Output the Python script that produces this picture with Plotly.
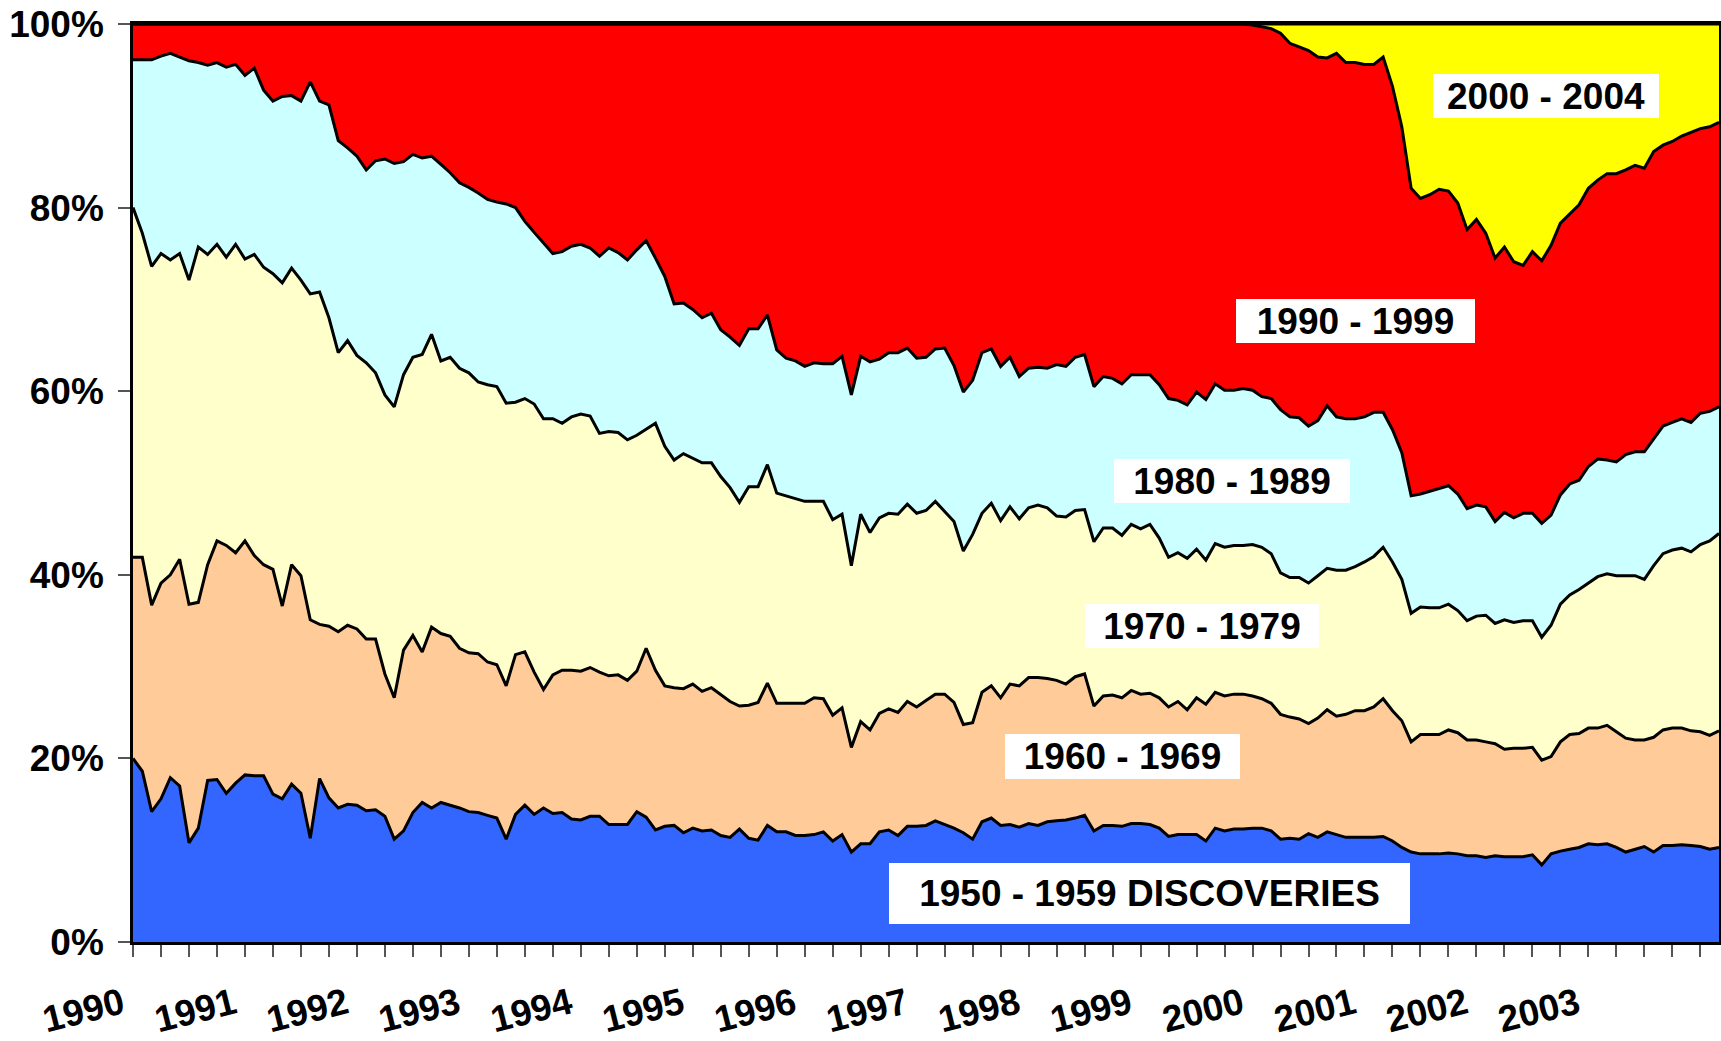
import plotly.graph_objects as go

# ---------------- data (cumulative share of production, %), Jan-1990 .. Mar-2004 monthly
months = [f"{1990 + k // 12}-{k % 12 + 1:02d}" for k in range(171)]
year_labels = [str(y) for y in range(1990, 2004)]
y_tick_labels = ["0%", "20%", "40%", "60%", "80%", "100%"]
series_names = ["1950 - 1959 DISCOVERIES", "1960 - 1969", "1970 - 1979",
                "1980 - 1989", "1990 - 1999", "2000 - 2004"]

cum_1950s = [
    20.0, 18.6, 14.2, 15.6, 17.9, 17.0, 10.8, 12.4, 17.6, 17.7, 16.2, 17.3,
    18.2, 18.1, 18.1, 16.1, 15.6, 17.2, 16.2, 11.3, 17.8, 15.7, 14.6, 15.0,
    14.9, 14.3, 14.4, 13.7, 11.2, 12.1, 14.1, 15.2, 14.6, 15.2, 14.9, 14.6,
    14.2, 14.1, 13.8, 13.5, 11.2, 13.9, 14.9, 13.9, 14.6, 14.0, 14.1, 13.4,
    13.3, 13.7, 13.7, 12.8, 12.8, 12.8, 14.2, 13.6, 12.2, 12.6, 12.7, 11.9,
    12.4, 12.1, 12.2, 11.6, 11.4, 12.3, 11.3, 11.1, 12.7, 12.0, 12.0, 11.6,
    11.6, 11.7, 12.0, 11.0, 11.7, 9.8, 10.7, 10.7, 12.0, 12.2, 11.6, 12.6,
    12.6, 12.7, 13.2, 12.8, 12.4, 11.9, 11.2, 13.1, 13.5, 12.7, 12.8, 12.5,
    12.9, 12.7, 13.1, 13.2, 13.3, 13.5, 13.8, 12.1, 12.7, 12.7, 12.6, 12.9,
    12.9, 12.8, 12.4, 11.5, 11.7, 11.7, 11.7, 11.0, 12.4, 12.1, 12.3, 12.3,
    12.4, 12.4, 12.1, 11.2, 11.3, 11.2, 11.8, 11.4, 12.0, 11.7, 11.4, 11.4,
    11.4, 11.4, 11.5, 11.0, 10.3, 9.8, 9.6, 9.6, 9.6, 9.7, 9.6, 9.4,
    9.4, 9.2, 9.4, 9.3, 9.3, 9.3, 9.5, 8.4, 9.6, 9.9, 10.1, 10.3,
    10.7, 10.6, 10.7, 10.3, 9.8, 10.1, 10.4, 9.8, 10.5, 10.5, 10.6, 10.5,
    10.4, 10.1, 10.3,
]

cum_1960s = [
    41.9, 41.9, 36.7, 39.1, 40.0, 41.7, 36.8, 37.0, 41.1, 43.7, 43.2, 42.4,
    43.7, 42.1, 41.1, 40.6, 36.6, 41.1, 39.9, 35.1, 34.6, 34.4, 33.8, 34.5,
    34.1, 33.0, 33.0, 29.2, 26.6, 31.8, 33.4, 31.6, 34.3, 33.6, 33.3, 32.0,
    31.5, 31.4, 30.5, 30.2, 27.9, 31.3, 31.6, 29.4, 27.5, 29.1, 29.6, 29.6,
    29.5, 29.9, 29.4, 29.0, 29.1, 28.5, 29.5, 32.0, 29.6, 27.9, 27.7, 27.6,
    28.1, 27.3, 27.7, 27.0, 26.2, 25.7, 25.8, 26.1, 28.2, 26.0, 26.0, 26.0,
    26.0, 26.6, 26.5, 24.7, 25.5, 21.2, 24.0, 23.1, 24.9, 25.4, 25.0, 26.2,
    25.6, 26.3, 27.0, 27.0, 26.1, 23.7, 23.9, 27.2, 27.9, 26.6, 28.1, 27.9,
    28.8, 28.8, 28.7, 28.5, 28.1, 28.9, 29.2, 25.7, 26.8, 26.9, 26.6, 27.4,
    27.0, 27.1, 26.6, 25.6, 26.2, 25.3, 26.6, 25.9, 27.2, 26.8, 27.0, 27.0,
    26.8, 26.5, 26.0, 24.8, 24.5, 24.3, 23.8, 24.4, 25.3, 24.6, 24.8, 25.2,
    25.2, 25.6, 26.5, 25.2, 24.1, 21.8, 22.6, 22.6, 22.6, 23.1, 22.8, 22.0,
    22.0, 21.8, 21.6, 21.0, 21.1, 21.1, 21.2, 19.8, 20.2, 21.8, 22.6, 22.7,
    23.3, 23.3, 23.6, 22.9, 22.2, 22.0, 22.0, 22.3, 23.1, 23.3, 23.3, 23.0,
    22.9, 22.5, 23.0,
]

cum_1970s = [
    80.0, 77.2, 73.6, 75.0, 74.3, 75.0, 72.1, 75.7, 74.9, 76.0, 74.6, 76.0,
    74.4, 74.9, 73.5, 72.8, 71.8, 73.4, 72.1, 70.6, 70.8, 68.0, 64.2, 65.5,
    63.9, 63.1, 62.0, 59.6, 58.3, 61.8, 63.7, 64.0, 66.2, 63.3, 63.7, 62.5,
    62.0, 61.0, 60.7, 60.5, 58.7, 58.8, 59.2, 58.6, 57.0, 57.0, 56.5, 57.2,
    57.5, 57.3, 55.4, 55.6, 55.5, 54.7, 55.2, 55.9, 56.5, 54.0, 52.5, 53.2,
    52.7, 52.2, 52.2, 50.7, 49.5, 47.9, 49.6, 49.6, 52.0, 48.9, 48.6, 48.3,
    48.0, 48.0, 48.0, 46.0, 46.6, 41.0, 46.6, 44.6, 46.2, 46.7, 46.6, 47.7,
    46.7, 47.0, 48.0, 46.9, 45.8, 42.6, 44.4, 46.7, 47.8, 45.9, 47.4, 46.1,
    47.3, 47.6, 47.3, 46.4, 46.3, 47.0, 47.1, 43.6, 45.1, 45.1, 44.3, 45.5,
    45.0, 45.5, 44.0, 41.9, 42.4, 41.8, 42.8, 41.6, 43.4, 43.0, 43.2, 43.2,
    43.3, 43.0, 42.3, 40.2, 39.7, 39.7, 39.1, 39.9, 40.7, 40.5, 40.5, 40.9,
    41.4, 42.0, 43.0, 41.4, 39.5, 35.8, 36.5, 36.4, 36.4, 36.8, 36.1, 35.0,
    35.5, 35.6, 34.7, 35.1, 34.8, 35.0, 35.0, 33.2, 34.5, 36.8, 37.8, 38.4,
    39.1, 39.8, 40.1, 39.9, 39.9, 39.9, 39.5, 41.0, 42.3, 42.7, 42.9, 42.5,
    43.3, 43.7, 44.5,
]

cum_1980s = [
    96.1, 96.1, 96.1, 96.5, 96.8, 96.4, 96.0, 95.8, 95.5, 95.8, 95.3, 95.6,
    94.4, 95.2, 92.8, 91.6, 92.1, 92.2, 91.6, 93.7, 91.6, 91.2, 87.3, 86.5,
    85.6, 84.1, 85.1, 85.3, 84.8, 85.0, 85.8, 85.4, 85.6, 84.7, 83.8, 82.7,
    82.2, 81.6, 80.9, 80.6, 80.4, 80.0, 78.5, 77.3, 76.1, 75.0, 75.2, 75.8,
    76.0, 75.6, 74.7, 75.6, 75.1, 74.3, 75.4, 76.4, 74.5, 72.5, 69.5, 69.6,
    68.9, 68.0, 68.5, 66.7, 65.9, 65.0, 66.8, 66.8, 68.3, 64.5, 63.6, 63.3,
    62.7, 63.1, 63.0, 63.0, 63.8, 59.6, 63.8, 63.2, 63.5, 64.2, 64.2, 64.7,
    63.6, 63.7, 64.6, 64.7, 62.8, 59.9, 61.2, 64.2, 64.6, 62.7, 63.7, 61.6,
    62.5, 62.6, 62.5, 62.9, 62.7, 63.7, 64.0, 60.5, 61.6, 61.4, 60.8, 61.8,
    61.8, 61.8, 60.7, 59.2, 59.0, 58.5, 59.9, 59.1, 60.8, 60.1, 60.1, 60.3,
    60.1, 59.4, 59.2, 58.0, 57.2, 57.1, 56.2, 56.8, 58.4, 57.2, 57.0, 57.0,
    57.2, 57.7, 57.7, 55.8, 53.3, 48.6, 48.8, 49.1, 49.4, 49.7, 48.8, 47.2,
    47.6, 47.4, 45.8, 46.8, 46.2, 46.7, 46.7, 45.6, 46.5, 48.7, 49.9, 50.3,
    51.8, 52.6, 52.5, 52.3, 53.1, 53.4, 53.4, 54.8, 56.2, 56.6, 57.0, 56.6,
    57.6, 57.8, 58.3,
]

cum_1990s = [
    100.0, 100.0, 100.0, 100.0, 100.0, 100.0, 100.0, 100.0, 100.0, 100.0, 100.0, 100.0,
    100.0, 100.0, 100.0, 100.0, 100.0, 100.0, 100.0, 100.0, 100.0, 100.0, 100.0, 100.0,
    100.0, 100.0, 100.0, 100.0, 100.0, 100.0, 100.0, 100.0, 100.0, 100.0, 100.0, 100.0,
    100.0, 100.0, 100.0, 100.0, 100.0, 100.0, 100.0, 100.0, 100.0, 100.0, 100.0, 100.0,
    100.0, 100.0, 100.0, 100.0, 100.0, 100.0, 100.0, 100.0, 100.0, 100.0, 100.0, 100.0,
    100.0, 100.0, 100.0, 100.0, 100.0, 100.0, 100.0, 100.0, 100.0, 100.0, 100.0, 100.0,
    100.0, 100.0, 100.0, 100.0, 100.0, 100.0, 100.0, 100.0, 100.0, 100.0, 100.0, 100.0,
    100.0, 100.0, 100.0, 100.0, 100.0, 100.0, 100.0, 100.0, 100.0, 100.0, 100.0, 100.0,
    100.0, 100.0, 100.0, 100.0, 100.0, 100.0, 100.0, 100.0, 100.0, 100.0, 100.0, 100.0,
    100.0, 100.0, 100.0, 100.0, 100.0, 100.0, 100.0, 100.0, 100.0, 100.0, 100.0, 100.0,
    99.9, 99.7, 99.5, 99.0, 97.9, 97.5, 97.1, 96.4, 96.3, 96.8, 95.8, 95.8,
    95.6, 95.6, 96.4, 93.2, 88.8, 82.1, 81.0, 81.4, 82.0, 81.8, 80.5, 77.6,
    78.7, 77.2, 74.5, 75.7, 74.1, 73.7, 75.2, 74.2, 75.9, 78.3, 79.3, 80.3,
    82.1, 83.0, 83.7, 83.7, 84.1, 84.6, 84.3, 86.1, 86.8, 87.2, 87.8, 88.2,
    88.6, 88.8, 89.3,
]

cum_2000s = [100.0] * len(months)   # top of a 100 % stacked chart

# ---------------- styling
colors = ["#3366FF", "#FFCC99", "#FFFFCC", "#CCFFFF", "#FF0000", "#FFFF00"]
FONT = "Liberation Sans, Arial, Helvetica, sans-serif"
FS = 37
W, H = 1721, 1041
PL, PR, PT, PB = 133, 1719, 24, 942   # plot area in pixels (as on the reference)

x = list(range(len(months)))
series = [cum_1950s, cum_1960s, cum_1970s, cum_1980s, cum_1990s, cum_2000s]

fig = go.Figure()
for k, (name, ys, col) in enumerate(zip(series_names, series, colors)):
    fig.add_trace(go.Scatter(
        x=x, y=ys, name=name, mode="lines",
        line=dict(color="black", width=3),
        fill="tozeroy" if k == 0 else "tonexty",
        fillcolor=col,
        customdata=months,
        hovertemplate="%{customdata}: %{y:.1f}%<extra>" + name + "</extra>",
    ))

year_pos = [months.index(f"{y}-01") for y in year_labels]

tickstyle = dict(ticks="outside", ticklen=12, tickwidth=2, tickcolor="#555555")
tfont = dict(family=FONT, size=FS, color="black", weight="bold")

fig.update_layout(
    width=W, height=H,
    margin=dict(l=PL, r=W - PR, t=PT, b=H - PB, pad=0, autoexpand=False),
    paper_bgcolor="white", plot_bgcolor="white",
    showlegend=False,
    font=tfont,
    xaxis=dict(
        range=[0, len(months) - 1], automargin=False,
        tickmode="array", tickvals=year_pos, ticktext=year_labels,
        tickangle=-14, ticklabelstandoff=12, ticklabelshift=-11,
        tickfont=tfont,
        showline=True, linecolor="black", linewidth=2.5, mirror=True,
        showgrid=False, zeroline=False,
        minor=dict(tick0=0, dtick=3, showgrid=False, **tickstyle),
        **tickstyle,
    ),
    yaxis=dict(
        range=[0, 100], automargin=False,
        tickmode="array", tickvals=[0, 20, 40, 60, 80, 100], ticktext=y_tick_labels,
        ticklabelstandoff=7,
        tickfont=tfont,
        showline=True, linecolor="black", linewidth=2.5, mirror=True,
        showgrid=False, zeroline=False,
        **tickstyle,
    ),
)

# label boxes as measured on the reference (left, right, top, bottom in px)
label_boxes = {
    "2000 - 2004": (1433, 1659, 74, 118),
    "1990 - 1999": (1236, 1475, 299, 343),
    "1980 - 1989": (1114, 1350, 459, 503),
    "1970 - 1979": (1085, 1319, 604, 648),
    "1960 - 1969": (1005, 1240, 734, 779),
    "1950 - 1959 DISCOVERIES": (889, 1410, 863, 924),
}
for text, (l, r, t, b) in label_boxes.items():
    fig.add_annotation(
        xref="paper", yref="paper",
        x=((l + r) / 2 - PL) / (PR - PL),
        y=(PB - (t + b) / 2) / (PB - PT),
        xanchor="center", yanchor="middle",
        text=text, showarrow=False,
        width=r - l, height=b - t, align="center", valign="middle",
        bgcolor="white", borderpad=0, borderwidth=0,
        font=tfont,
    )

fig.write_html("out.html", config={"displayModeBar": False},
               post_script="document.body.style.margin='0';")
